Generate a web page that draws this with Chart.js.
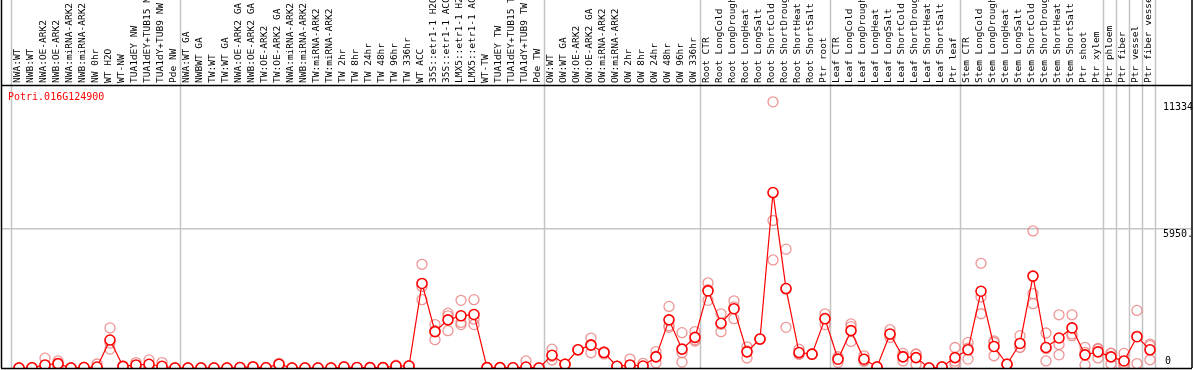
<!DOCTYPE html>
<html>
<head>
<meta charset="utf-8">
<script src="https://cdn.jsdelivr.net/npm/chart.js@4.4.1/dist/chart.umd.min.js"></script>
<style>
  html, body { margin: 0; padding: 0; background: #fff; }
</style>
</head>
<body>
<canvas id="expr-chart" width="1194" height="370"></canvas>
<script>
const probeName = 'Potri.016G124900';

const samples = [
  'NWA:WT', 'NWB:WT', 'NWA:OE-ARK2', 'NWB:OE-ARK2', 'NWA:miRNA-ARK2', 'NWB:miRNA-ARK2',
  'NW 0hr', 'WT H2O', 'WT-NW', 'TUA1dEY NW', 'TUA1dEY+TUB15 NW', 'TUA1dY+TUB9 NW', 'Pde NW',
  'NWA:WT GA', 'NWBWT GA', 'TW:WT', 'TW:WT GA', 'NWA:OE-ARK2 GA', 'NWB:OE-ARK2 GA',
  'TW:OE-ARK2', 'TW:OE-ARK2 GA', 'NWA:miRNA-ARK2', 'NWB:miRNA-ARK2', 'TW:miRNA-ARK2',
  'TW:miRNA-ARK2', 'TW 2hr', 'TW 8hr', 'TW 24hr', 'TW 48hr', 'TW 96hr', 'TW 336hr',
  'WT ACC', '35S::etr1-1 H2O', '35S::etr1-1 ACC', 'LMX5::etr1-1 H2O', 'LMX5::etr1-1 ACC',
  'WT-TW', 'TUA1dEY TW', 'TUA1dEY+TUB15 TW', 'TUA1dY+TUB9 TW', 'Pde TW',
  'OW:WT', 'OW:WT GA', 'OW:OE-ARK2', 'OW:OE-ARK2 GA', 'OW:miRNA-ARK2', 'OW:miRNA-ARK2',
  'OW 2hr', 'OW 8hr', 'OW 24hr', 'OW 48hr', 'OW 96hr', 'OW 336hr',
  'Root CTR', 'Root LongCold', 'Root LongDrought', 'Root LongHeat', 'Root LongSalt',
  'Root ShortCold', 'Root ShortDrought', 'Root ShortHeat', 'Root ShortSalt', 'Ptr root',
  'Leaf CTR', 'Leaf LongCold', 'Leaf LongDrought', 'Leaf LongHeat', 'Leaf LongSalt',
  'Leaf ShortCold', 'Leaf ShortDrought', 'Leaf ShortHeat', 'Leaf ShortSalt', 'Ptr leaf',
  'Stem CTR', 'Stem LongCold', 'Stem LongDrought', 'Stem LongHeat', 'Stem LongSalt',
  'Stem ShortCold', 'Stem ShortDrought', 'Stem ShortHeat', 'Stem ShortSalt', 'Ptr shoot',
  'Ptr xylem', 'Ptr phloem', 'Ptr fiber', 'Ptr vessel', 'Ptr fiber vessel'
];

// mean expression per sample
const means = [
  0, 10, 130, 185, 0, 20, 40, 1190, 70, 130, 160, 75, 0,
  0, 0, 0, 0, 20, 45, 10, 160, 0, 0, 0, 0, 40, 20, 15, 15, 86, 86,
  3600, 1548, 2050, 2223, 2279, 15, 15, 10, 43, 0,
  546, 159, 774, 975, 658, 72, 129, 86, 473, 2050, 803, 1304,
  3282, 1906, 2523, 688, 1233, 7470, 3384, 658, 589, 2094,
  374, 1591, 374, 43, 1449, 473, 443, 0, 43, 443,
  774, 3268, 917, 159, 1045, 3913, 873, 1277, 1707, 559, 688,
  473, 301, 1333, 774
];

// individual replicates
const rep1 = [
  0, 0, 420, 300, 0, 0, 170, 1707, 70, 230, 344, 230, 0,
  0, 0, 0, 0, 20, 60, 10, 200, 0, 0, 0, 0, 60, 20, 15, 15, 120, 86,
  4416, 1849, 2335, 2881, 2911, 15, 15, 10, 300, 0,
  800, 159, 774, 1276, 700, 72, 380, 200, 700, 2623, 1505, 1550,
  3626, 2308, 2860, 900, 1233, 11334, 5060, 800, 589, 2308,
  240, 1879, 520, 43, 1630, 620, 600, 0, 43, 873,
  1088, 4459, 1150, 159, 1376, 5835, 1491, 2266, 2266, 880, 800,
  620, 620, 2451, 1019
];
const rep2 = [
  0, 20, 0, 90, 0, 30, 0, 804, 60, 80, 40, 0, 0,
  0, 0, 0, 0, 20, 30, 10, 120, 0, 0, 0, 0, 30, 20, 15, 15, 60, 86,
  2911, 1204, 1591, 1849, 1849, 15, 15, 10, 20, 0,
  340, 159, 774, 650, 600, 72, 30, 40, 220, 1733, 250, 1150,
  2881, 1548, 2100, 430, 1233, 6280, 1733, 580, 589, 1850,
  400, 1131, 300, 43, 1300, 300, 150, 0, 43, 170,
  380, 3023, 520, 159, 880, 3169, 300, 1000, 1449, 130, 430,
  170, 90, 190, 350
];
const rep3 = [
  0, 10, 0, 170, 0, 30, 0, 1060, 80, 80, 100, 0, 0,
  0, 0, 0, 0, 20, 45, 10, 160, 0, 0, 0, 0, 30, 20, 15, 15, 80, 86,
  3473, 1590, 2220, 1940, 2077, 15, 15, 10, 10, 0,
  500, 159, 774, 1000, 680, 72, 0, 20, 500, 1800, 650, 1210,
  3340, 1860, 2600, 730, 1233, 4600, 3360, 600, 589, 2120,
  480, 1760, 300, 43, 1420, 500, 580, 0, 43, 290,
  850, 2309, 1080, 159, 880, 2739, 830, 560, 1376, 660, 830,
  630, 200, 1360, 950
];

// first sample index of each boxed group, plus the end
const groupStarts = [0, 13, 41, 53, 63, 73, 84, 85, 86, 87, 88];

const yTicks = [0, 5950, 11334];
const yTickLabels = ['0', '5950.', '11334'];

const meanPoints = means.map((v, i) => ({ x: i, y: v }));
const repPoints = [];
[rep1, rep2, rep3].forEach(r => r.forEach((v, i) => repPoints.push({ x: i, y: v })));

const monoFont = '"DejaVu Sans Mono", "Liberation Mono", monospace';

const framePlugin = {
  id: 'frame',
  beforeDatasetsDraw(chart) {
    const ctx = chart.ctx;
    const xs = chart.scales.x;
    const area = chart.chartArea;
    ctx.save();
    ctx.strokeStyle = '#c4c4c4';
    ctx.lineWidth = 1.5;
    groupStarts.forEach(g => {
      const px = Math.round(xs.getPixelForValue(g - 8 / 13)) + 0.5;
      ctx.beginPath();
      ctx.moveTo(px, 0);
      ctx.lineTo(px, area.bottom);
      ctx.stroke();
    });
    ctx.restore();
  },
  afterDraw(chart) {
    const ctx = chart.ctx;
    const xs = chart.scales.x;
    const ys = chart.scales.y;
    const area = chart.chartArea;
    ctx.save();
    ctx.strokeStyle = '#000';
    ctx.lineWidth = 1.5;
    ctx.beginPath();
    ctx.moveTo(area.left + 0.5, 0);
    ctx.lineTo(area.left + 0.5, area.bottom);
    ctx.moveTo(area.right, 0);
    ctx.lineTo(area.right, area.bottom);
    ctx.moveTo(area.left, area.top + 0.5);
    ctx.lineTo(area.right, area.top + 0.5);
    ctx.moveTo(area.left, area.bottom + 0.5);
    ctx.lineTo(area.right, area.bottom + 0.5);
    ctx.stroke();

    // value labels inside the right edge
    ctx.font = '10px ' + monoFont;
    ctx.fillStyle = '#000';
    ctx.textAlign = 'left';
    const lx = xs.getPixelForValue(samples.length);
    yTicks.forEach((t, k) => {
      const py = ys.getPixelForValue(t);
      if (t === 0) {
        ctx.textBaseline = 'bottom';
        ctx.fillText(yTickLabels[k], lx + 2, py - 2);
      } else {
        ctx.textBaseline = 'top';
        ctx.fillText(yTickLabels[k], lx, py + 1);
      }
    });

    // probe id
    ctx.fillStyle = '#ff0000';
    ctx.textBaseline = 'middle';
    ctx.fillText(probeName, area.left + 7, area.top + 12);
    ctx.restore();
  }
};

new Chart(document.getElementById('expr-chart'), {
  type: 'line',
  data: {
    datasets: [
      {
        label: probeName,
        data: meanPoints,
        borderColor: '#ff0000',
        borderWidth: 1.2,
        pointRadius: 5,
        pointBorderWidth: 1.6,
        pointBorderColor: '#ff0000',
        pointBackgroundColor: '#ffffff',
        tension: 0,
        order: 0
      },
      {
        label: 'replicates',
        data: repPoints,
        showLine: false,
        pointRadius: 5,
        pointBorderWidth: 1.3,
        pointBorderColor: 'rgba(235, 130, 130, 0.85)',
        pointBackgroundColor: 'rgba(0,0,0,0)',
        order: 1
      }
    ]
  },
  plugins: [framePlugin],
  options: {
    responsive: false,
    animation: false,
    layout: { autoPadding: false, padding: { left: 1, right: 2, top: 0, bottom: 2 } },
    plugins: {
      legend: { display: false },
      tooltip: { enabled: false },
      title: { display: false }
    },
    scales: {
      x: {
        type: 'linear',
        position: 'top',
        min: -18 / 13,
        max: -18 / 13 + 1191 / 13,
        afterBuildTicks: scale => { scale.ticks = samples.map((s, i) => ({ value: i })); },
        afterFit: scale => {
          scale.height = 85;
          scale.paddingLeft = 0;
          scale.paddingRight = 0;
        },
        ticks: {
          autoSkip: false,
          minRotation: 90,
          maxRotation: 90,
          padding: 2,
          labelOffset: 10,
          color: '#000',
          font: { family: monoFont, size: 9.5 },
          callback: value => samples[value]
        },
        grid: { display: false, drawTicks: false },
        border: { display: false }
      },
      y: {
        position: 'right',
        min: 0,
        max: 12050,
        afterBuildTicks: scale => { scale.ticks = yTicks.map(v => ({ value: v })); },
        afterFit: scale => {
          scale.width = 0;
          scale.paddingTop = 0;
          scale.paddingBottom = 0;
        },
        ticks: { display: false },
        grid: {
          drawTicks: false,
          lineWidth: 1.5,
          color: c => (c.tick && c.tick.value === 5950 ? '#c4c4c4' : 'rgba(0,0,0,0)')
        },
        border: { display: false }
      }
    }
  }
});
</script>
</body>
</html>
